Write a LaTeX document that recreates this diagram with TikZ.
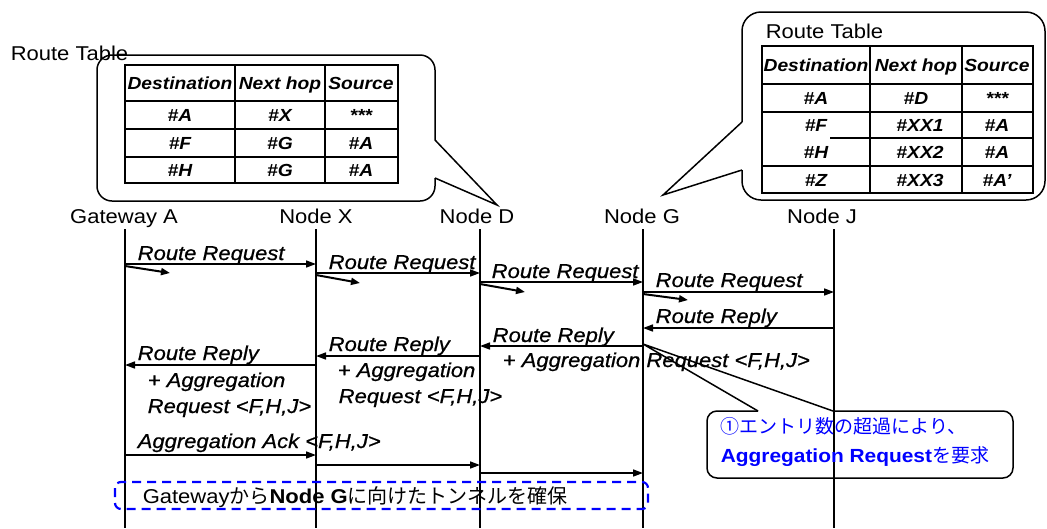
\documentclass[tikz,border=0pt]{standalone}
\usepackage{fontspec}
\setmainfont{Liberation Sans}[FakeStretch=1.1, ItalicFeatures={FakeBold=0.7}]
\newfontfamily\jpfont{Noto Sans CJK JP}
\usetikzlibrary{arrows.meta}

\begin{document}
\begin{tikzpicture}[x=1pt, y=-1pt, line width=1.5pt,
    every node/.style={inner sep=0pt, font=\fontsize{20}{24}\selectfont},
    head/.style={anchor=base},
    msglbl/.style={anchor=base west, font=\fontsize{20}{24}\selectfont\itshape},
    cell/.style={anchor=base, font=\fontsize{17.5}{20}\selectfont\bfseries\itshape},
    life/.style={line width=1.6pt},
    msg/.style={line width=1.6pt, -{Triangle[length=10pt,width=7pt]}},
    tick/.style={line width=2pt, -{Triangle[length=9pt,width=7pt]}},
    tbl/.style={line width=1.1pt}]
  \useasboundingbox (0,0) rectangle (1047,528);

  % lifelines
  \node[head] (hA) at (124,223) {Gateway A};
  \node[head] (hX) at (316,223) {Node X};
  \node[head] (hD) at (477,223) {Node D};
  \node[head] (hG) at (642,223) {Node G};
  \node[head] (hJ) at (822,223) {Node J};
  \coordinate (lA) at (125,229);
  \coordinate (lX) at (316,229);
  \coordinate (lD) at (480,229);
  \coordinate (lG) at (643,229);
  \coordinate (lJ) at (834,229);
  \foreach \l in {lA,lX,lD,lG}
    \draw[life] (\l) -- (\l |- 0,528);
  \draw[life] (lJ) -- (lJ |- 0,266);
  \draw[line width=2.8pt] (lJ |- 0,266) -- (lJ |- 0,528);

  % route table of Node D
  \draw[rounded corners=15] (435,178) -- (435,201) -- (97,201) -- (97,55) -- (435,55) -- (435,140);
  \draw (435,140) -- (497,205) -- (435,178);
  \node[anchor=base west] (rtD) at (10,60) {Route Table};
  \draw[tbl] (125,65) rectangle (398,183);
  \draw[tbl] (235,65) -- (235,183) (325,65) -- (325,183);
  \foreach \y in {101,129,157}
    \draw[tbl] (125,\y) -- (398,\y);
  \foreach \x/\y/\t [count=\i] in {180/89/Destination, 280/89/Next hop, 361/89/Source,
      180/121/\#A, 280/121/\#X, 361/121/***,
      180/149/\#F, 280/149/\#G, 361/149/\#A,
      180/176/\#H, 280/176/\#G, 361/176/\#A}
    \node[cell] (cD\i) at (\x,\y) {\t};

  % route table of Node G
  \draw[rounded corners=19] (742,170) -- (742,200) -- (1045,200) -- (1045,12) -- (742,12) -- (742,122);
  \draw (742,122) -- (663,195) -- (742,170);
  \node[anchor=base west] (rtG) at (765,38) {Route Table};
  \draw[tbl] (762,46) rectangle (1033,193);
  \draw[tbl] (870,46) -- (870,193) (962,46) -- (962,193);
  \foreach \y in {84,112,166}
    \draw[tbl] (762,\y) -- (1033,\y);
  \draw[tbl] (830,138) -- (1033,138);
  \foreach \x/\y/\t [count=\i] in {816/71/Destination, 916/71/Next hop, 997/71/Source,
      816/104/\#A, 916/104/\#D, 997/104/***,
      816/131/\#F, 920/131/\#XX1, 997/131/\#A,
      816/158/\#H, 920/158/\#XX2, 997/158/\#A,
      816/186/\#Z, 920/186/\#XX3, 997/186/\#A'}
    \node[cell] (cG\i) at (\x,\y) {\t};

  % route request
  \draw[msg] (lA |- 0,264) -- (lX |- 0,264);
  \draw[msg] (lX |- 0,273) -- (lD |- 0,273);
  \draw[msg] (lD |- 0,282) -- (lG |- 0,282);
  \draw[msg] (lG |- 0,292) -- (lJ |- 0,292);
  \draw[tick] (lA |- 0,266) -- +(45,7);
  \draw[tick] (lX |- 0,275) -- +(44,8);
  \draw[tick] (lD |- 0,284) -- +(45,8);
  \draw[tick] (lG |- 0,294) -- +(45,6);
  \node[msglbl] (rq1) at (137,260) {Route Request};
  \node[msglbl] (rq2) at (328,269) {Route Request};
  \node[msglbl] (rq3) at (491,278) {Route Request};
  \node[msglbl] (rq4) at (655,287) {Route Request};

  % route reply
  \draw[msg] (lJ |- 0,328) -- (lG |- 0,328);
  \draw[msg] (lG |- 0,346) -- (lD |- 0,346);
  \draw[msg] (lD |- 0,356) -- (lX |- 0,356);
  \draw[msg] (lX |- 0,365) -- (lA |- 0,365);
  \node[msglbl] (rp1) at (655,323) {Route Reply};
  \node[msglbl] (rp2) at (492,342) {Route Reply};
  \node[msglbl] (ag2) at (502,367) {+ Aggregation Request <F,H,J>};
  \node[msglbl] (rp3) at (328,351) {Route Reply};
  \node[msglbl] (ag3) at (337,377) {+ Aggregation};
  \node[msglbl] (aq3) at (338,403) {Request <F,H,J>};
  \node[msglbl] (rp4) at (137,360) {Route Reply};
  \node[msglbl] (ag4) at (147,387) {+ Aggregation};
  \node[msglbl] (aq4) at (147,413) {Request <F,H,J>};

  % aggregation ack
  \draw[msg] (lA |- 0,455) -- (lX |- 0,455);
  \draw[msg] (lX |- 0,465) -- (lD |- 0,465);
  \draw[msg] (lD |- 0,473) -- (lG |- 0,473);
  \node[msglbl] (ack) at (137,448) {Aggregation Ack <F,H,J>};

  % note on Node G
  \draw[rounded corners=10] (833,411) -- (1013,411) -- (1013,478) -- (707,478) -- (707,411) -- (758,411);
  \draw (758,411) -- (lG |- 0,344) -- (833,411);
  \node[anchor=base west, blue, font=\fontsize{19}{23}\selectfont] (nt1) at (720,433) {\jpfont ①エントリ数の超過により、};
  \node[anchor=base west, blue, font=\fontsize{19}{23}\selectfont] (nt2) at (720,462) {\textbf{Aggregation Request}{\jpfont を要求}};

  % tunnel
  \draw[blue, line width=2.2pt, dash pattern=on 9pt off 6pt, rounded corners=6] (115,482) rectangle (648,509);
  \node[anchor=base west] (tun) at (142,503) {Gateway{\jpfont から}\textbf{Node G}{\jpfont に向けたトンネルを確保}};
\end{tikzpicture}
\end{document}
